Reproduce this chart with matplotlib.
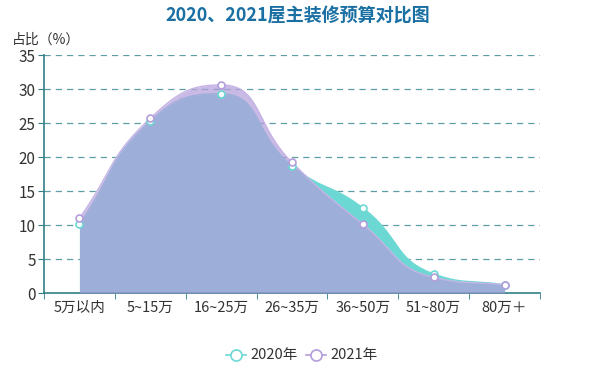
import numpy as np
import matplotlib.pyplot as plt

plt.rcParams['font.family'] = ['Noto Sans CJK SC', 'DejaVu Sans']

categories = ["5万以内", "5~15万", "16~25万", "26~35万", "36~50万", "51~80万", "80万＋"]
v2020 = [10.1, 25.3, 29.3, 18.7, 12.5, 2.8, 1.2]
v2021 = [11.0, 25.7, 30.6, 19.2, 10.1, 2.3, 1.2]

c2020 = "#6cd8d4"
c2021 = "#b39ddb"

fig = plt.figure(figsize=(5.96, 3.66), dpi=100)
ax = fig.add_axes([44/596, 1-293/366, 496/596, 238/366])

# echarts-like smooth curve (with extreme constraint), in pixel-ish units
sx, sy = 70.9, 6.8


def clamp(v, a, b):
    return min(max(v, min(a, b)), max(a, b))


def smooth_curve(xs, ys, smooth=0.5, n=40):
    px = np.array(xs, float) * sx
    py = np.array(ys, float) * sy
    m = len(px)
    cp_in, cp_out = [], []
    for i in range(m):
        pi = max(i - 1, 0)
        ni = min(i + 1, m - 1)
        x, y = px[i], py[i]
        vx = px[ni] - px[pi]
        vy = py[ni] - py[pi]
        lp = np.hypot(x - px[pi], y - py[pi])
        ln = np.hypot(px[ni] - x, py[ni] - y)
        r = ln / (ln + lp)
        c0x = x - vx * smooth * (1 - r)
        c0y = y - vy * smooth * (1 - r)
        c1x = x + vx * smooth * r
        c1y = y + vy * smooth * r
        if lp > 0 and ln > 0:
            c1x = clamp(c1x, x, px[ni])
            c1y = clamp(c1y, y, py[ni])
            c0x = x - (c1x - x) * lp / ln
            c0y = y - (c1y - y) * lp / ln
            c0x = clamp(c0x, x, px[pi])
            c0y = clamp(c0y, y, py[pi])
            c1x = x + (x - c0x) * ln / lp
            c1y = y + (y - c0y) * ln / lp
        cp_in.append((c0x, c0y))
        cp_out.append((c1x, c1y))
    t = np.linspace(0, 1, n)
    ox, oy = [], []
    for i in range(m - 1):
        p0 = (px[i], py[i])
        p1 = cp_out[i]
        p2 = cp_in[i + 1]
        p3 = (px[i + 1], py[i + 1])
        bx = (1-t)**3*p0[0] + 3*(1-t)**2*t*p1[0] + 3*(1-t)*t**2*p2[0] + t**3*p3[0]
        by = (1-t)**3*p0[1] + 3*(1-t)**2*t*p1[1] + 3*(1-t)*t**2*p2[1] + t**3*p3[1]
        ox.extend(bx)
        oy.extend(by)
    return np.array(ox) / sx, np.array(oy) / sy


x = np.arange(len(categories))
x20, y20 = smooth_curve(x, v2020)
x21, y21 = smooth_curve(x, v2021)

ax.fill_between(x20, y20, 0, color=c2020, lw=0, zorder=2)
ax.plot(x20, y20, color=c2020, lw=1, zorder=3)
ax.fill_between(x21, y21, 0, color=c2021, alpha=0.7, lw=0, zorder=4)
ax.plot(x21, y21, color="#c6b3e6", lw=1, zorder=5)

ax.plot(x, v2020, 'o', ms=5, mfc='white', mec=c2020, mew=1.2, zorder=6)
ax.plot(x, v2021, 'o', ms=5, mfc='white', mec=c2021, mew=1.2, zorder=7)

ax.set_xlim(-0.5, len(categories) - 0.5)
ax.set_ylim(0, 35)
ax.set_yticks(range(0, 36, 5))
ax.set_xticks(x)
ax.set_xticklabels(categories)
ax.set_xticks(np.arange(-0.5, len(categories), 1), minor=True)
ax.tick_params(axis='x', which='major', length=0, labelsize=10.5, colors='#333333', pad=6)
ax.tick_params(axis='x', which='minor', length=4, color='#2f7f86', direction='out')
ax.tick_params(axis='y', length=4, color='#2f7f86', labelsize=11, labelcolor='#333333', pad=2)

for yv in range(5, 36, 5):
    ax.axhline(yv, color='#5c9ea3', lw=0.9, ls=(0, (5, 4)), zorder=1)

for s in ['top', 'right']:
    ax.spines[s].set_visible(False)
ax.spines['left'].set_color('#2f7f86')
ax.spines['bottom'].set_color('#2f7f86')
ax.spines['left'].set_linewidth(1.2)
ax.spines['bottom'].set_linewidth(1.2)

fig.text(0.5, 1 - 16/366, "2020、2021屋主装修预算对比图", ha='center', va='center',
         fontsize=13, fontweight='bold', color='#1a6fa3')
fig.text(12/596, 1 - 40/366, "占比（%）", ha='left', va='center', fontsize=10, color='#333333')

# legend
ly = 1 - 355/366
for cx, col, lab in [(236, c2020, "2020年"), (316, c2021, "2021年")]:
    fig.add_artist(plt.Line2D([(cx-10)/596, (cx+10)/596], [ly, ly], color=col, lw=1.2,
                              transform=fig.transFigure))
    fig.add_artist(plt.Line2D([cx/596], [ly], marker='o', ms=8, mfc='white', mec=col, mew=1.2,
                              transform=fig.transFigure))
    fig.text((cx+14)/596, ly, lab, ha='left', va='center', fontsize=10.5, color='#333333')

fig.savefig("out.png", dpi=100)
